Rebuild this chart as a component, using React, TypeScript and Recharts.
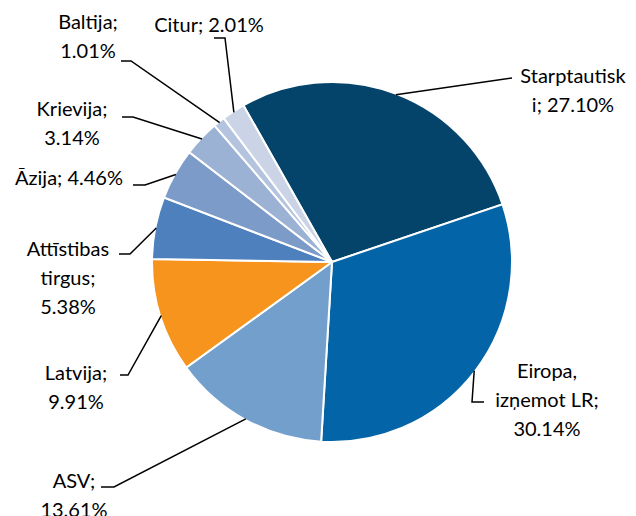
import { PieChart, Pie, Cell } from "recharts";

const categories = [
  "Starptautiski",
  "Eiropa, izņemot LR",
  "ASV",
  "Latvija",
  "Attīstibas tirgus",
  "Āzija",
  "Krievija",
  "Baltija",
  "Citur",
];
const values = [27.1, 30.14, 13.61, 9.91, 5.38, 4.46, 3.14, 1.01, 2.01];
const colors = [
  "#04446A",
  "#0365A8",
  "#739FCC",
  "#F7941E",
  "#4E80BD",
  "#7C9BC8",
  "#9CB2D5",
  "#B4C4DF",
  "#CAD4E6",
];
// label text, {v} gets the value
const labelLines = [
  ["Starptautisk", "i; {v}"],
  ["Eiropa,", "izņemot LR;", "{v}"],
  ["ASV;", "{v}"],
  ["Latvija;", "{v}"],
  ["Attīstibas", "tirgus;", "{v}"],
  ["Āzija; {v}"],
  ["Krievija;", "{v}"],
  ["Baltija;", "{v}"],
  ["Citur; {v}"],
];

// label placement (chart px): text center, first line y, leader elbow points
const labelPos = [
  { x: 565, y: 67, path: [[504, 70]] },
  { x: 539, y: 362, path: [[464, 394], [476, 394]] },
  { x: 66, y: 472, path: [[106, 479], [93, 479]] },
  { x: 68, y: 364, path: [[120, 367], [112, 367]] },
  { x: 60, y: 240, path: [[122, 246], [111, 246]] },
  { x: 61, y: 169, path: [[137, 177], [125, 177]] },
  { x: 64, y: 100, path: [[125, 109], [114, 109]] },
  { x: 80, y: 13, path: [[123, 53], [113, 53]] },
  { x: 201, y: 16, path: [[217, 30], [206, 30]] },
];

const data = categories.map((name, i) => ({ name, value: values[i] }));
const RAD = Math.PI / 180;
const LH = 29;

function renderLabel(props: any) {
  const { cx, cy, midAngle, outerRadius, index } = props;
  const pos = labelPos[index];
  const r = outerRadius - 1;
  const sx = cx + r * Math.cos(-midAngle * RAD);
  const sy = cy + r * Math.sin(-midAngle * RAD);
  const pts = [[sx, sy], ...pos.path].map((p) => p.join(",")).join(" ");
  const v = values[index].toFixed(2) + "%";
  return (
    <g key={"lbl" + index}>
      <polyline points={pts} fill="none" stroke="#000" strokeWidth={1.5} />
      <text
        x={pos.x}
        y={pos.y}
        textAnchor="middle"
        dominantBaseline="central"
        fontFamily="Lato, 'Open Sans', sans-serif"
        fontSize={20}
        fill="#000"
      >
        {labelLines[index].map((t, j) => (
          <tspan key={j} x={pos.x} y={pos.y + j * LH}>
            {t.replace("{v}", v)}
          </tspan>
        ))}
      </text>
    </g>
  );
}

export default function App() {
  return (
    <PieChart width={620} height={508}>
      <Pie
        data={data}
        dataKey="value"
        nameKey="name"
        cx={319}
        cy={249}
        outerRadius={180}
        startAngle={119.5}
        endAngle={-240.5}
        stroke="#fff"
        strokeWidth={2}
        label={renderLabel}
        labelLine={false}
        isAnimationActive={false}
      >
        {data.map((d, i) => (
          <Cell key={d.name} fill={colors[i]} />
        ))}
      </Pie>
    </PieChart>
  );
}
